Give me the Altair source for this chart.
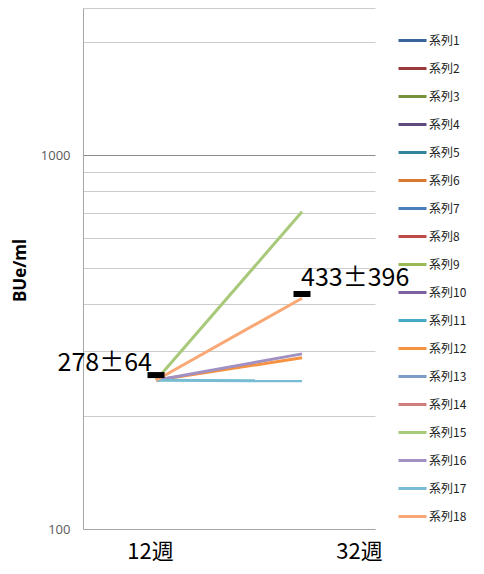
import altair as alt
import pandas as pd

weeks = ["12週", "32週"]
series = [f"系列{i}" for i in range(1, 19)]
colors = ["#3A659C", "#9A3B39", "#76933C", "#5F4A7E", "#31849B", "#D9782E",
          "#4A7EBB", "#BE4B48", "#98B954", "#7D60A0", "#46AAC5", "#F69240",
          "#7E9BC8", "#CE7E7D", "#A8C97A", "#A190C2", "#78BCD4", "#F9A875"]
# values read at 12週 and 32週 (None = line not visible)
vals_12 = [None] * 11 + [250] + [None, None] + [250, 250, 250, 250]
vals_32 = [None] * 11 + [287] + [None, None] + [705, 294, 249, 414]

mean_vals = [258, 425]
labels = ["278±64", "433±396"]
label_vals = [278, 433]

rows = []
for s, a, b in zip(series, vals_12, vals_32):
    rows.append({"series": s, "week": weeks[0], "value": a})
    rows.append({"series": s, "week": weeks[1], "value": b})
df = pd.DataFrame(rows)
df_mean = pd.DataFrame({"week": weeks, "value": mean_vals})
df_lab = pd.DataFrame({"week": weeks, "value": label_vals, "text": labels})

x_enc = alt.X("week:N", sort=weeks,
              scale=alt.Scale(type="point", padding=0.5),
              axis=alt.Axis(title=None, labelAngle=0, ticks=False,
                            labelFont="Noto Sans CJK JP", labelFontSize=22,
                            labelColor="#000000", labelPadding=12,
                            labelOffset=alt.ExprRef(expr="datum.label == '32週' ? 57 : -6"),
                            domainColor="#A6A6A6", grid=False))
yscale = alt.Scale(type="log", domain=[100, 2473], nice=False)
grid_vals = [100, 200, 300, 400, 500, 600, 700, 800, 900, 1000, 2000, 2473]

lines = alt.Chart(df).mark_line(strokeWidth=3).encode(
    x=x_enc,
    y=alt.Y("value:Q", scale=yscale,
            axis=alt.Axis(title="BUe/ml", values=grid_vals,
                          labelExpr="datum.value == 100 || datum.value == 1000 ? datum.value : ''",
                          ticks=False, labelFont="Open Sans", labelFontSize=13,
                          labelColor="#595959", labelPadding=13,
                          gridColor=alt.ExprRef(expr="datum.value == 1000 ? '#8C8C8C' : '#CCCCCC'"),
                          domainColor="#A6A6A6",
                          titleFont="Open Sans", titleFontSize=17, titleFontWeight="bold",
                          titleColor="#000000", titleX=-63, titleY=262,
                          titleAngle=-90, titleAlign="center", titleBaseline="middle")),
    color=alt.Color("series:N", scale=alt.Scale(domain=series, range=colors),
                    legend=alt.Legend(title=None, orient="none", legendX=314, legendY=17,
                                      symbolType="stroke", symbolSize=784,
                                      symbolStrokeWidth=3, rowPadding=6, padding=0,
                                      labelFont="Noto Sans CJK JP", labelFontSize=12,
                                      labelColor="#222222", labelOffset=1)),
    detail="series:N",
)

marks = alt.Chart(df_mean).mark_tick(orient="horizontal", size=17, thickness=6,
                                     color="#000000", opacity=1).encode(
    x=alt.X("week:N", sort=weeks), y=alt.Y("value:Q", scale=yscale))

t1 = alt.Chart(df_lab.iloc[[0]]).mark_text(align="right", baseline="middle", dx=-4,
                                          font="Noto Sans CJK JP", fontSize=25,
                                          color="#000000").encode(
    x=alt.X("week:N", sort=weeks), y=alt.Y("value:Q", scale=yscale), text="text:N")
t2 = alt.Chart(df_lab.iloc[[1]]).mark_text(align="left", baseline="middle", dx=-1, dy=-13,
                                          font="Noto Sans CJK JP", fontSize=25,
                                          color="#000000").encode(
    x=alt.X("week:N", sort=weeks), y=alt.Y("value:Q", scale=yscale), text="text:N")

chart = alt.layer(lines, marks, t1, t2).properties(
    width=292, height=521,
    autosize=alt.AutoSizeParams(type="none"),
    padding={"left": 75, "top": 0, "right": 101, "bottom": 37},
).configure_view(stroke=None).configure_axis(gridWidth=1)

chart.save("out.html", embed_options={"renderer": "svg", "actions": False})
